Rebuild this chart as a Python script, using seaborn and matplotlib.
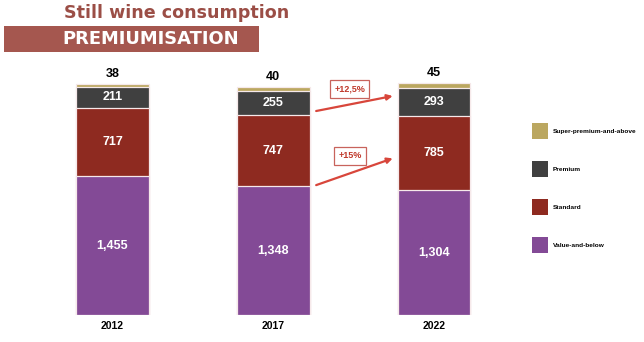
import matplotlib
matplotlib.use("Agg")
import matplotlib.pyplot as plt
from matplotlib.patches import Patch, Rectangle
import seaborn as sns
import pandas as pd

years = ["2012", "2017", "2022"]
value_below = [1455, 1348, 1304]
standard = [717, 747, 785]
premium = [211, 255, 293]
super_premium = [38, 40, 45]
segment_names = ["Value-and-below", "Standard", "Premium", "Super-premium-and-above"]
segment_colors = ["#834a96", "#8e2a20", "#404040", "#bba760"]
growth_labels = ["+12,5%", "+15%"]

sns.set_theme(style="white")
plt.rcParams["font.family"] = ["Liberation Sans", "DejaVu Sans"]

W, H = 644, 342
fig = plt.figure(figsize=(W / 100, H / 100), dpi=100)
fig.patch.set_facecolor("white")
ax = fig.add_axes([0, 27 / H, 1, 315 / H])
ax.set_facecolor("white")

df = pd.DataFrame({
    "year": years,
    "Value-and-below": value_below,
    "Standard": standard,
    "Premium": premium,
    "Super-premium-and-above": super_premium,
})
cum = df[segment_names].cumsum(axis=1)
cum["year"] = years
bar_w = 0.454
for name, color in reversed(list(zip(segment_names, segment_colors))):
    sns.barplot(data=cum, x="year", y=name, color=color, saturation=1,
                width=bar_w, edgecolor="#f6e9ea", linewidth=0.9,
                errorbar=None, ax=ax)

px_per_unit = 0.0955
ax.set_ylim(0, 315 / px_per_unit)
ax.set_xlim(-112.5 / 160.75, (W - 112.5) / 160.75)
for s in ax.spines.values():
    s.set_visible(False)
ax.set_yticks([])
ax.set_xlabel("")
ax.set_ylabel("")
ax.tick_params(axis="x", length=0, pad=4, labelsize=7.5)
for lbl in ax.get_xticklabels():
    lbl.set_fontweight("bold")
    lbl.set_color("black")

# value labels
for i in range(len(years)):
    bottom = 0
    for j, name in enumerate(segment_names):
        v = df.loc[i, name]
        if j < 3:
            ax.text(i, bottom + v / 2, f"{v:,}", ha="center", va="center",
                    color="white", fontsize=9, fontweight="bold")
        else:
            ax.annotate(f"{v}", (i, bottom + v), xytext=(0, 3),
                        textcoords="offset points", ha="center", va="bottom",
                        color="black", fontsize=9, fontweight="bold")
        bottom += v

# growth arrows
arrow_col = "#d8463b"
x0 = 1 + bar_w / 2 + 0.04
x1 = 2 - bar_w / 2 - 0.03
ax.annotate("", xy=(x1, 2293), xytext=(x0, 2136),
            arrowprops=dict(arrowstyle="-|>", color=arrow_col, lw=1.6,
                            mutation_scale=8, shrinkA=0, shrinkB=0))
ax.annotate("", xy=(x1, 1640), xytext=(x0, 1360),
            arrowprops=dict(arrowstyle="-|>", color=arrow_col, lw=1.6,
                            mutation_scale=8, shrinkA=0, shrinkB=0))
for lab, y in zip(growth_labels, [2366, 1665]):
    ax.text(1.477, y, lab, ha="center", va="center", color="#c0392b",
            fontsize=6.5, fontweight="bold",
            bbox=dict(boxstyle="square,pad=0.45", fc="white",
                      ec="#c8635c", lw=0.9))

# legend
handles = [Patch(facecolor=c, edgecolor="none") for c in segment_colors]
leg = fig.legend(handles[::-1], segment_names[::-1], loc="upper left",
                 bbox_to_anchor=(532 / W, 1 - 123 / H), frameon=False,
                 fontsize=4.65, handlelength=2.48, handleheight=3.43,
                 labelspacing=3.4, handletextpad=0.75, borderpad=0,
                 borderaxespad=0)
for t in leg.get_texts():
    t.set_fontweight("bold")
    t.set_color("black")

# title
fig.text(177 / W, 1 - 13 / H, "Still wine consumption", ha="center",
         va="center", fontsize=12.6, fontweight="bold", color="#9b4e46",
         family="DejaVu Sans")
fig.patches.append(Rectangle((4 / W, 1 - 52 / H), 255 / W, 26 / H,
                             transform=fig.transFigure, facecolor="#a5574f",
                             edgecolor="none"))
fig.text(151 / W, 1 - 39.5 / H, "PREMIUMISATION", ha="center", va="center",
         fontsize=12.9, fontweight="bold", color="white",
         family="DejaVu Sans")

fig.savefig("out.png", dpi=100, facecolor="white")
